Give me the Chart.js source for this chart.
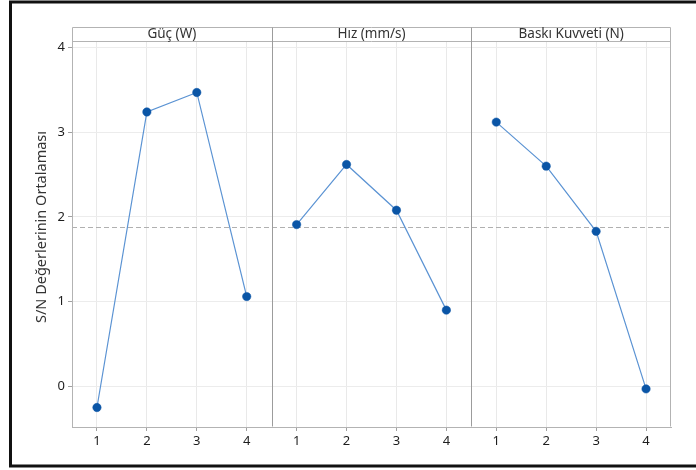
<!DOCTYPE html>
<html>
<head>
<meta charset="utf-8">
<script src="https://cdn.jsdelivr.net/npm/chart.js@4/dist/chart.umd.min.js"></script>
<style>
  html, body { margin: 0; padding: 0; background: #ffffff; }
  #wrap { width: 696px; height: 470px; position: relative; }
</style>
</head>
<body>
<div id="wrap"><canvas id="c" width="696" height="470"></canvas></div>
<script>
// Factor levels shown on each panel's x axis
const levels = ['1', '2', '3', '4'];
// Panel (factor) titles
const panelTitles = ['Güç (W)', 'Hız (mm/s)', 'Baskı Kuvveti (N)'];
// Mean S/N ratio per level, one array per factor
const gucMeans = [-0.25, 3.24, 3.47, 1.06];
const hizMeans = [1.91, 2.62, 2.08, 0.90];
const baskiMeans = [3.12, 2.60, 1.83, -0.03];
// Grand mean of all S/N ratios (dashed reference line)
const overallMean = 1.88;
// Y axis tick values
const yTicks = [0, 1, 2, 3, 4];
const yTitle = 'S/N Değerlerinin Ortalaması';

const FONT = '"Noto Sans", "DejaVu Sans", sans-serif';
const LINE_COLOR = '#5b93d3';
const POINT_COLOR = '#0a55a6';
const FRAME_GRAY = '#b3b3b3';
const DIVIDER_GRAY = '#9c9c9c';

const seriesList = [gucMeans, hizMeans, baskiMeans];
const axisIds = ['x0', 'x1', 'x2'];

const datasets = seriesList.map((vals, i) => ({
  label: panelTitles[i],
  data: vals,
  xAxisID: axisIds[i],
  yAxisID: 'y',
  borderColor: LINE_COLOR,
  borderWidth: 1.2,
  pointBackgroundColor: POINT_COLOR,
  pointBorderColor: POINT_COLOR,
  pointRadius: 4.2,
  pointBorderWidth: 0.5,
  tension: 0,
  fill: false
}));

function xScale(id) {
  return {
    type: 'category',
    labels: levels,
    position: 'bottom',
    stack: 'panels',
    offset: true,
    afterFit: (s) => { s.height = 43; },
    grid: {
      color: '#e9e9e9',
      lineWidth: 1,
      tickLength: 4,
      tickColor: '#a0a0a0',
      offset: false
    },
    border: { display: true, color: FRAME_GRAY, width: 1 },
    ticks: {
      font: { family: FONT, size: 13 },
      color: '#1e1e1e',
      padding: 2,
      maxRotation: 0
    }
  };
}

const panelDecor = {
  id: 'panelDecor',
  beforeDatasetsDraw(chart) {
    const { ctx, chartArea } = chart;
    const y = chart.scales.y;
    // grand mean reference line
    const ym = Math.round(y.getPixelForValue(overallMean)) + 0.5;
    ctx.save();
    ctx.strokeStyle = '#b0b0b0';
    ctx.lineWidth = 1;
    ctx.setLineDash([5, 3]);
    ctx.beginPath();
    ctx.moveTo(chartArea.left, ym);
    ctx.lineTo(chartArea.right, ym);
    ctx.stroke();
    ctx.restore();
  },
  afterDraw(chart) {
    const { ctx, chartArea } = chart;
    const stripTop = chartArea.top - 15;
    ctx.save();
    // strip header band and outer box
    ctx.strokeStyle = FRAME_GRAY;
    ctx.lineWidth = 1;
    const L = Math.round(chartArea.left) + 0.5;
    const R = Math.round(chartArea.right) - 0.5;
    const T = Math.round(stripTop) + 0.5;
    const B = Math.round(chartArea.bottom) - 0.5;
    const H = Math.round(chartArea.top) - 0.5;
    ctx.beginPath();
    ctx.moveTo(L, B); ctx.lineTo(L, T); ctx.lineTo(R, T); ctx.lineTo(R, B);
    ctx.moveTo(L, H); ctx.lineTo(R, H);
    ctx.stroke();
    // panel dividers
    ctx.strokeStyle = DIVIDER_GRAY;
    axisIds.slice(0, -1).forEach(id => {
      const xr = Math.round(chart.scales[id].right) + 0.5;
      ctx.beginPath();
      ctx.moveTo(xr, T);
      ctx.lineTo(xr, B);
      ctx.stroke();
    });
    // panel titles
    ctx.fillStyle = '#333333';
    ctx.font = '13.5px ' + FONT;
    ctx.textAlign = 'center';
    ctx.textBaseline = 'middle';
    axisIds.forEach((id, i) => {
      const s = chart.scales[id];
      ctx.fillText(panelTitles[i], (s.left + s.right) / 2, (stripTop + chartArea.top) / 2);
    });
    // y axis title
    ctx.save();
    ctx.translate(42, 227);
    ctx.rotate(-Math.PI / 2);
    ctx.fillStyle = '#333333';
    ctx.font = '14.5px ' + FONT;
    ctx.fillText(yTitle, 0, 0);
    ctx.restore();
    // outer frame
    ctx.strokeStyle = '#111111';
    ctx.lineWidth = 3;
    ctx.beginPath();
    ctx.moveTo(700, 2);
    ctx.lineTo(10.5, 2);
    ctx.lineTo(10.5, 466);
    ctx.lineTo(700, 466);
    ctx.stroke();
    ctx.restore();
  }
};

new Chart(document.getElementById('c'), {
  type: 'line',
  data: { datasets },
  options: {
    responsive: false,
    animation: false,
    devicePixelRatio: 1,
    layout: { padding: { left: 12, right: 25, top: 42, bottom: 0 } },
    plugins: {
      legend: { display: false },
      tooltip: { enabled: false },
      title: { display: false }
    },
    scales: {
      x0: xScale('x0'),
      x1: xScale('x1'),
      x2: xScale('x2'),
      y: {
        type: 'linear',
        position: 'left',
        min: -0.48,
        max: 4.066,
        afterFit: (s) => { s.width = 60; },
        afterBuildTicks: (s) => { s.ticks = yTicks.map(v => ({ value: v })); },
        grid: {
          color: '#ececec',
          lineWidth: 1,
          tickLength: 4,
          tickColor: '#a0a0a0'
        },
        border: { display: true, color: FRAME_GRAY, width: 1 },
        ticks: {
          font: { family: FONT, size: 13 },
          color: '#1e1e1e',
          padding: 3
        }
      }
    }
  },
  plugins: [panelDecor]
});
</script>
</body>
</html>
